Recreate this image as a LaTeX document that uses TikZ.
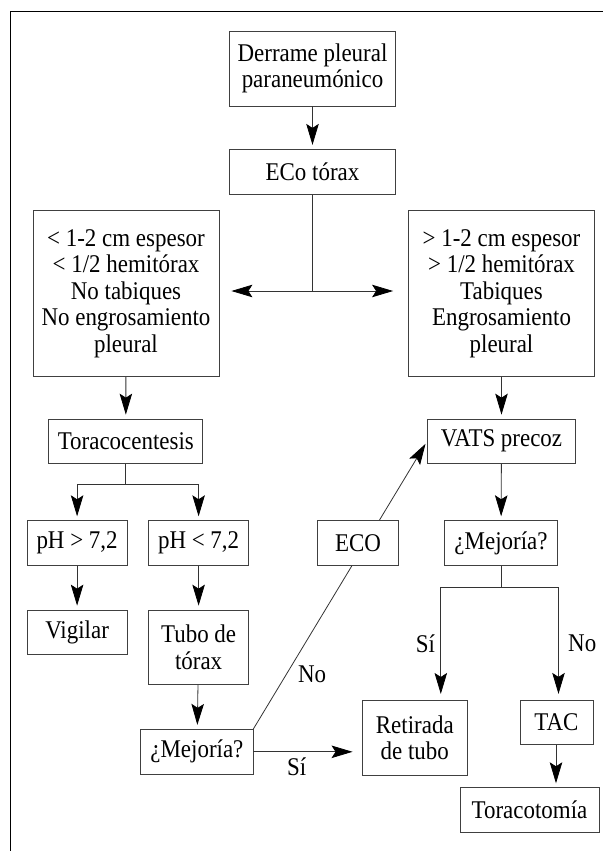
\documentclass[tikz,border=0pt]{standalone}
\usepackage{fontspec}
\setmainfont[FakeStretch=0.9]{Liberation Serif}
\usetikzlibrary{arrows.meta}
\begin{document}
\begin{tikzpicture}[x=1pt,y=-1pt,
    caja/.style={draw=black!75, line width=0.8pt, align=center, inner sep=0pt,
        font=\fontsize{25.5}{26.5}\selectfont, fill=white},
    flecha/.style={draw=black!80, line width=0.8pt, -{Stealth[length=21pt,width=12.5pt,inset=4pt,black]}, shorten >=4pt},
    linea/.style={draw=black!80, line width=0.8pt},
    etiqueta/.style={font=\fontsize{25.5}{26.5}\selectfont}]
        \useasboundingbox (0,0) rectangle (603,851);

        % Marco
        \draw[line width=0.9pt] (10.4,851) -- (10.4,11) -- (603,11);

        % Cajas
        \node[caja, minimum width=166pt, minimum height=75pt] (derrame) at (312.5,68.5) {Derrame pleural\\paraneumónico};
        \node[caja, minimum width=166pt, minimum height=45pt] (eco) at (312.5,171.8) {ECo tórax};
        \node[caja, minimum width=186pt, minimum height=166pt] (izq) at (126,293.7)
            {< 1-2 cm espesor\\< 1/2 hemitórax\\No tabiques\\No engrosamiento\\pleural};
        \node[caja, minimum width=186pt, minimum height=166pt] (der) at (501.5,293.7)
            {> 1-2 cm espesor\\> 1/2 hemitórax\\Tabiques\\Engrosamiento\\pleural};
        \node[caja, minimum width=154pt, minimum height=44.3pt] (toraco) at (125.8,441.2) {Toracocentesis};
        \node[caja, minimum width=148pt, minimum height=44.3pt] (vats) at (501.5,441.2) {VATS precoz};
        \node[caja, minimum width=100.4pt, minimum height=45pt] (phmas) at (77.1,543.2) {pH > 7,2};
        \node[caja, minimum width=100.3pt, minimum height=45pt] (phmenos) at (198.6,543.2) {pH < 7,2};
        \node[caja, minimum width=112.7pt, minimum height=45pt] (mejder) at (501,543.2) {¿Mejoría?};
        \node[caja, minimum width=100.4pt, minimum height=44.3pt] (vigilar) at (77.1,632.2) {Vigilar};
        \node[caja, minimum width=100.3pt, minimum height=74.3pt] (tubo) at (198.6,647.2) {Tubo de\\tórax};
        \node[caja, minimum width=112.2pt, minimum height=45pt] (mejizq) at (196.9,751.8) {¿Mejoría?};
        \node[caja, minimum width=105.7pt, minimum height=74.7pt] (retirada) at (414.8,737.7) {Retirada\\de tubo};
        \node[caja, minimum width=73pt, minimum height=44pt] (tac) at (556.5,722.3) {TAC};
        \node[caja, minimum width=139pt, minimum height=44.6pt] (toracotomia) at (529.5,810) {Toracotomía};

        % Conexiones superiores
        \draw[flecha] (derrame) -- (eco);
        \coordinate (cruce) at (eco.south |- 0,291);
        \draw[linea] (eco) -- (cruce);
        \draw[flecha, shorten >=0pt, {Stealth[length=21pt,width=12.5pt,inset=4pt,black]}-{Stealth[length=21pt,width=12.5pt,inset=4pt,black]}]
            ([xshift=12pt]izq.east |- cruce) -- ([xshift=-15pt]der.west |- cruce);
        \draw[flecha] (izq) -- (toraco);
        \draw[flecha] (der) -- (vats);

        % Rama izquierda
        \draw[flecha] (toraco.south) -- ++(0,21) -| (phmas.north);
        \draw[flecha] (toraco.south) -- ++(0,21) -| (phmenos.north);
        \draw[flecha] (phmas) -- (vigilar);
        \draw[flecha] (phmenos) -- (tubo);
        \draw[flecha] (tubo) -- (mejizq);
        \draw[flecha, shorten >=9pt] (mejizq.east) -- (mejizq.east -| retirada.west)
            node[etiqueta, pos=0.4, below=2pt] {Sí};
        \draw[flecha, shorten >=3pt] (mejizq.north east) -- (vats.west)
            node[etiqueta, pos=0.19, right=8pt] {No};
        \node[caja, minimum width=80.8pt, minimum height=45pt] (ecobox) at (358.1,543.2) {ECO};

        % Rama derecha
        \draw[flecha] (vats) -- (mejder);
        \draw[flecha, shorten >=6pt] (mejder.south) -- ++(0,21) -| ([xshift=26pt]retirada.north)
            node[etiqueta, pos=0.75, left=2pt] {Sí};
        \draw[flecha, shorten >=6pt] (mejder.south) -- ++(0,21) -| ([xshift=2pt]tac.north)
            node[etiqueta, pos=0.75, right=6pt] {No};
        \draw[flecha] ([xshift=-0.5pt]tac.south) -- ([xshift=-0.5pt]tac.south |- toracotomia.north);
\end{tikzpicture}
\end{document}
